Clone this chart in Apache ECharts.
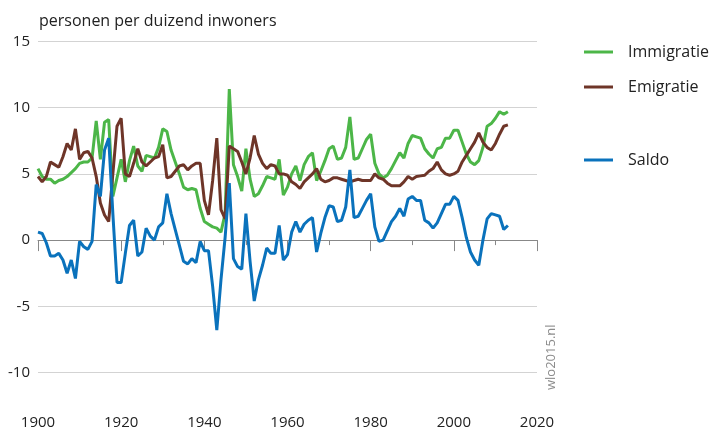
<!DOCTYPE html>
<html>
<head>
<meta charset="utf-8">
<title>Immigratie, emigratie en saldo</title>
<script src="https://cdn.jsdelivr.net/npm/echarts@6/dist/echarts.min.js"></script>
<style>
  html, body { margin: 0; padding: 0; background: #fff; }
  #chart { width: 714px; height: 431px; }
</style>
</head>
<body>
<div id="chart"></div>
<script>
// jaren 1900 t/m 2013
const years = Array.from({ length: 114 }, (_, i) => 1900 + i)

const immigratie = [
  5.4, 4.8, 4.6, 4.6, 4.3, 4.5, 4.6, 4.8, 5.1, 5.4,
  5.8, 5.9, 5.9, 6.2, 9.0, 6.1, 8.9, 9.1, 3.3, 4.7,
  6.1, 4.4, 6.0, 7.1, 5.6, 5.2, 6.4, 6.3, 6.2, 7.0,
  8.4, 8.2, 6.8, 5.9, 5.0, 4.0, 3.8, 3.9, 3.8, 2.4,
  1.4, 1.2, 1.0, 0.9, 0.6, 2.0, 11.4, 5.7, 4.8, 3.7,
  6.9, 4.6, 3.3, 3.5, 4.1, 4.8, 4.7, 4.6, 6.1, 3.4,
  4.0, 5.0, 5.6, 4.5, 5.7, 6.3, 6.6, 4.5, 5.2, 6.0,
  6.9, 7.1, 6.1, 6.2, 7.0, 9.3, 6.1, 6.2, 6.9, 7.6,
  8.0, 5.8, 5.0, 4.7, 4.9, 5.4, 6.0, 6.6, 6.2, 7.3,
  7.9, 7.8, 7.7, 6.9, 6.5, 6.2, 6.9, 7.0, 7.7, 7.7,
  8.3, 8.3, 7.4, 6.5, 5.9, 5.7, 6.0, 7.0, 8.6, 8.8,
  9.2, 9.7, 9.5, 9.7
]

const emigratie = [
  4.8, 4.4, 4.8, 5.9, 5.7, 5.5, 6.3, 7.3, 6.8, 8.4,
  6.1, 6.6, 6.7, 6.2, 4.8, 2.8, 1.9, 1.4, 5.0, 8.6,
  9.2, 5.0, 4.8, 5.8, 6.9, 5.9, 5.6, 5.9, 6.2, 6.3,
  7.2, 4.7, 4.8, 5.2, 5.6, 5.7, 5.3, 5.6, 5.8, 5.8,
  3.0, 1.9, 4.5, 7.7, 2.3, 1.6, 7.1, 6.9, 6.7, 5.9,
  5.0, 6.2, 7.9, 6.5, 5.8, 5.4, 5.7, 5.6, 5.0, 5.0,
  4.9, 4.4, 4.2, 3.9, 4.4, 4.7, 5.0, 5.4, 4.6, 4.4,
  4.5, 4.7, 4.7, 4.6, 4.5, 4.4, 4.5, 4.6, 4.5, 4.5,
  4.5, 5.0, 4.7, 4.6, 4.3, 4.1, 4.1, 4.1, 4.4, 4.8,
  4.6, 4.8, 4.85, 4.9, 5.2, 5.4, 5.9, 5.3, 5.0, 4.9,
  5.0, 5.2, 5.9, 6.4, 6.9, 7.4, 8.1, 7.4, 7.0, 6.8,
  7.3, 8.0, 8.6, 8.7
]

const saldo = [
  0.6, 0.5, -0.2, -1.2, -1.2, -1.0, -1.5, -2.5, -1.5, -2.9,
  -0.1, -0.5, -0.7, -0.1, 4.2, 3.3, 6.8, 7.7, 2.0, -3.2,
  -3.2, -1.0, 1.1, 1.5, -1.2, -0.9, 0.9, 0.3, 0.0, 1.0,
  1.3, 3.5, 2.0, 0.8, -0.4, -1.6, -1.8, -1.4, -1.7, -0.1,
  -0.8, -0.8, -3.5, -6.8, -3.0, 0.2, 4.3, -1.4, -2.0, -2.2,
  2.0, -1.6, -4.6, -3.0, -1.9, -0.6, -1.0, -1.0, 1.1, -1.5,
  -1.1, 0.6, 1.4, 0.6, 1.2, 1.5, 1.7, -0.9, 0.5, 1.7,
  2.6, 2.5, 1.4, 1.5, 2.5, 5.3, 1.7, 1.8, 2.4, 3.0,
  3.5, 1.0, -0.1, 0.0, 0.7, 1.4, 1.8, 2.4, 1.8, 3.1,
  3.3, 3.0, 3.0, 1.5, 1.3, 0.9, 1.3, 2.0, 2.7, 2.7,
  3.3, 3.0, 1.7, 0.2, -0.9, -1.5, -1.9, 0.0, 1.6, 2.0,
  1.9, 1.8, 0.8, 1.1
]

const font = '"Open Sans", sans-serif'
const textColor = '#222'

function toPoints(values) {
  return years.map((y, i) => [y, values[i]])
}

const myChart = echarts.init(document.getElementById('chart'))

const option = {
  animation: false,
  textStyle: { fontFamily: font },
  title: {
    text: 'personen per duizend inwoners',
    left: 34,
    top: 8,
    textStyle: { fontFamily: font, fontSize: 16, fontWeight: 'normal', color: textColor }
  },
  legend: [
    {
      data: ['Immigratie', 'Emigratie'],
      orient: 'vertical',
      left: 579,
      top: 37,
      icon: 'rect',
      itemWidth: 29,
      itemHeight: 3,
      itemGap: 15,
      selectedMode: false,
      textStyle: { fontFamily: font, fontSize: 16, color: textColor, lineHeight: 20, padding: [0, 0, 0, 10] }
    },
    {
      data: ['Saldo'],
      orient: 'vertical',
      left: 579,
      top: 145,
      icon: 'rect',
      itemWidth: 29,
      itemHeight: 3,
      selectedMode: false,
      textStyle: { fontFamily: font, fontSize: 16, color: textColor, lineHeight: 20, padding: [0, 0, 0, 10] }
    }
  ],
  grid: {
    left: 38,
    right: 177,
    top: 41.5,
    bottom: 58.5
  },
  xAxis: {
    type: 'value',
    min: 1900,
    max: 2020,
    interval: 20,
    offset: 22,
    axisLine: { show: true, lineStyle: { color: '#888', width: 1 } },
    axisTick: { show: true, length: 11, lineStyle: { color: '#888' } },
    minorTick: { show: true, splitNumber: 2, length: 5, lineStyle: { color: '#888' } },
    splitLine: { show: false },
    axisLabel: {
      fontFamily: font,
      fontSize: 15,
      color: textColor,
      margin: 21,
      formatter: value => String(value)
    }
  },
  yAxis: {
    type: 'value',
    min: -10,
    max: 15,
    interval: 5,
    axisLine: { show: false },
    axisTick: { show: false },
    axisLabel: { fontFamily: font, fontSize: 15, color: textColor, margin: 8 },
    splitLine: {
      show: true,
      lineStyle: { color: ['#d3d3d3', '#d3d3d3', '#8a8a8a', '#d3d3d3', '#d3d3d3', '#d3d3d3'], width: 1 }
    }
  },
  graphic: [
    {
      type: 'text',
      x: 551,
      y: 390,
      rotation: Math.PI / 2,
      style: {
        text: 'wlo2015.nl',
        fill: '#8c8c8c',
        font: '13px "Open Sans", sans-serif',
        textAlign: 'left',
        textVerticalAlign: 'middle',
        align: 'left',
        verticalAlign: 'middle'
      }
    }
  ],
  series: [
    {
      name: 'Immigratie',
      type: 'line',
      data: toPoints(immigratie),
      showSymbol: false,
      color: '#4cb648',
      lineStyle: { width: 3, color: '#4cb648' }
    },
    {
      name: 'Emigratie',
      type: 'line',
      data: toPoints(emigratie),
      showSymbol: false,
      color: '#6e3528',
      lineStyle: { width: 3, color: '#6e3528' }
    },
    {
      name: 'Saldo',
      type: 'line',
      data: toPoints(saldo),
      showSymbol: false,
      color: '#0a72bc',
      lineStyle: { width: 3, color: '#0a72bc' }
    }
  ]
}

myChart.setOption(option)
</script>
</body>
</html>
